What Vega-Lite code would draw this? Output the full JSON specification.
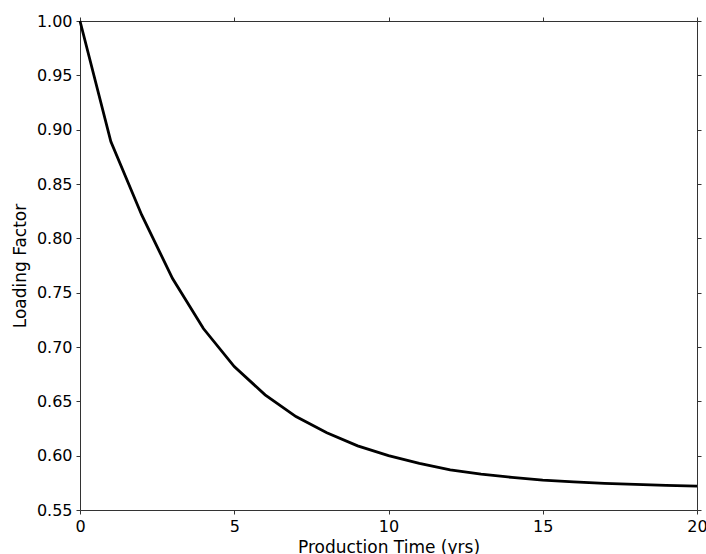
{
  "$schema": "https://vega.github.io/schema/vega-lite/v6.json",
  "width": 617,
  "height": 489,
  "autosize": {"type": "none"},
  "padding": {"left": 80, "top": 21, "right": 9, "bottom": 44},
  "background": "white",
  "config": {
    "view": {"stroke": null},
    "axis": {
      "labelFont": "DejaVu Sans",
      "titleFont": "DejaVu Sans",
      "labelFontSize": 16,
      "titleFontSize": 17,
      "labelColor": "black",
      "titleColor": "black",
      "titleFontWeight": "normal",
      "domainColor": "#333",
      "tickColor": "#333",
      "tickSize": 4,
      "grid": false
    }
  },
  "data": {
    "values": [
      {"t": 0, "f": 1.0},
      {"t": 1, "f": 0.889},
      {"t": 2, "f": 0.8215},
      {"t": 3, "f": 0.763},
      {"t": 4, "f": 0.717},
      {"t": 5, "f": 0.682},
      {"t": 6, "f": 0.656},
      {"t": 7, "f": 0.636},
      {"t": 8, "f": 0.621},
      {"t": 9, "f": 0.609},
      {"t": 10, "f": 0.600},
      {"t": 11, "f": 0.593},
      {"t": 12, "f": 0.587},
      {"t": 13, "f": 0.583},
      {"t": 14, "f": 0.580},
      {"t": 15, "f": 0.5775},
      {"t": 16, "f": 0.5758},
      {"t": 17, "f": 0.5745},
      {"t": 18, "f": 0.5735},
      {"t": 19, "f": 0.5727},
      {"t": 20, "f": 0.572}
    ]
  },
  "layer": [
    {
      "mark": {"type": "line", "color": "black", "strokeWidth": 2.8},
      "encoding": {
        "x": {
          "field": "t", "type": "quantitative",
          "scale": {"domain": [0, 20], "nice": false, "zero": false},
          "axis": {"orient": "bottom", "values": [0, 5, 10, 15, 20], "title": "Production Time (yrs)", "labelPadding": 4, "titleBaseline": "alphabetic", "titleY": 42, "labelFlush": false}
        },
        "y": {
          "field": "f", "type": "quantitative",
          "scale": {"domain": [0.55, 1.0], "nice": false, "zero": false},
          "axis": {"orient": "left", "values": [0.55, 0.6, 0.65, 0.7, 0.75, 0.8, 0.85, 0.9, 0.95, 1.0], "format": ".2f", "title": "Loading Factor", "labelPadding": 4, "titleBaseline": "alphabetic", "titleX": -55, "titleY": 244.5, "labelFlush": false}
        }
      }
    },
    {
      "mark": {"type": "line", "opacity": 0},
      "encoding": {
        "x": {
          "field": "t", "type": "quantitative",
          "axis": {"orient": "top", "values": [0, 5, 10, 15, 20], "labels": false, "title": null}
        },
        "y": {
          "field": "f", "type": "quantitative",
          "axis": {"orient": "right", "values": [0.55, 0.6, 0.65, 0.7, 0.75, 0.8, 0.85, 0.9, 0.95, 1.0], "labels": false, "title": null}
        }
      }
    }
  ],
  "resolve": {"axis": {"x": "independent", "y": "independent"}}
}
